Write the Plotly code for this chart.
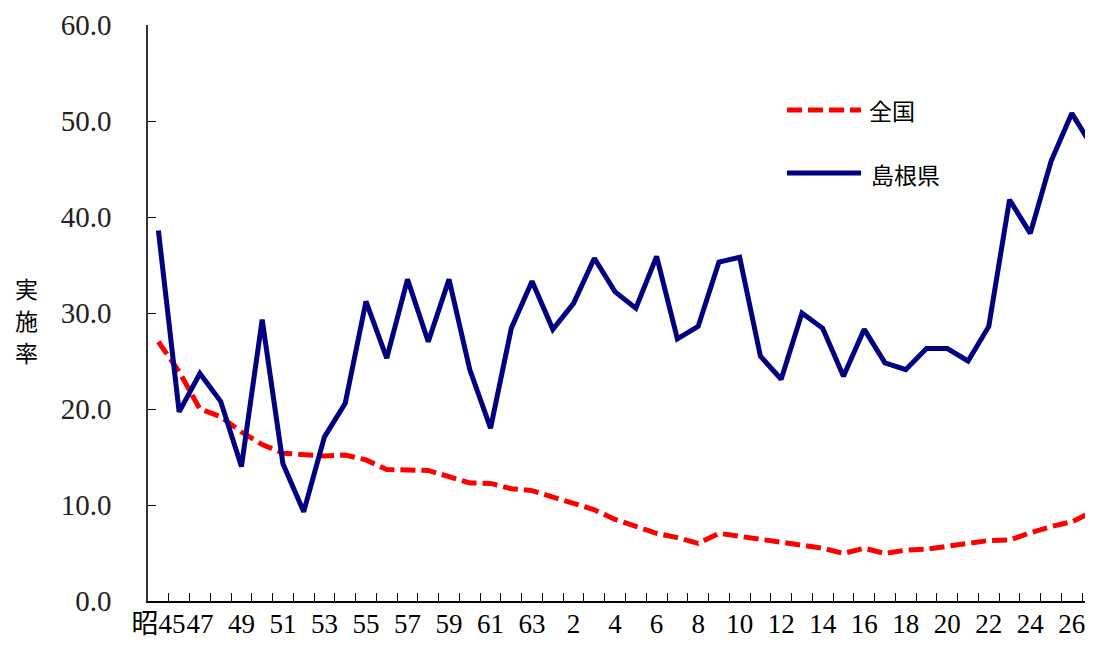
import plotly.graph_objects as go

# Years: 昭和45 (1970) .. 平成27 (2015)
years = ["昭45", "46", "47", "48", "49", "50", "51", "52", "53", "54", "55", "56", "57", "58",
         "59", "60", "61", "62", "63", "元", "2", "3", "4", "5", "6", "7", "8", "9", "10", "11",
         "12", "13", "14", "15", "16", "17", "18", "19", "20", "21", "22", "23", "24", "25",
         "26", "27"]

zenkoku = [27.0, 23.9, 20.0, 19.2, 17.6, 16.3, 15.4, 15.3, 15.1, 15.2, 14.7, 13.7, 13.65, 13.6,
           12.95, 12.3, 12.25, 11.7, 11.5, 10.8, 10.1, 9.5, 8.5, 7.75, 7.05, 6.6, 6.0, 7.05, 6.75,
           6.4, 6.2, 5.8, 5.5, 4.95, 5.5, 4.95, 5.3, 5.4, 5.65, 6.0, 6.3, 6.35, 7.1, 7.75, 8.25, 9.3]

shimane = [38.6, 19.7, 23.7, 20.8, 14.0, 29.3, 14.3, 9.3, 17.1, 20.6, 31.2, 25.3, 33.5, 27.0,
           33.5, 24.1, 18.0, 28.4, 33.3, 28.3, 31.0, 35.7, 32.2, 30.5, 35.9, 27.3, 28.6, 35.3,
           35.8, 25.5, 23.1, 30.0, 28.4, 23.4, 28.3, 24.8, 24.1, 26.3, 26.3, 25.0, 28.6, 41.8,
           38.3, 45.8, 50.8, 47.3]

tick_idx = list(range(0, 45, 2))
tick_text = [years[i] for i in tick_idx]

x = list(range(len(years)))
x_range = [-0.5, 45.02]

SERIF = "Liberation Serif, Noto Sans CJK JP, serif"
CJK = "Noto Sans CJK JP, sans-serif"

fig = go.Figure()
fig.add_trace(go.Scatter(x=x, y=zenkoku, mode="lines", name="全国",
                         line=dict(color="#FF0000", width=5, dash="15px,6px"),
                         showlegend=False))
fig.add_trace(go.Scatter(x=x, y=shimane, mode="lines", name="島根県",
                         line=dict(color="#000080", width=5),
                         showlegend=False))
# helper (invisible) trace so that the label axis is drawn
fig.add_trace(go.Scatter(x=[x[0]], y=[shimane[0]], xaxis="x2", mode="none",
                         showlegend=False, hoverinfo="skip"))

# page body has an 8px default margin: the figure is offset by (8, 8)
fig.update_layout(
    width=1085, height=640,
    margin=dict(l=140, r=0, t=17, b=47),
    paper_bgcolor="white", plot_bgcolor="white",
    showlegend=False,
    xaxis=dict(
        range=x_range, tickmode="linear", tick0=-0.5, dtick=1,
        ticks="inside", ticklen=8, tickcolor="black", tickwidth=1,
        showticklabels=False, automargin=False,
        showgrid=False, zeroline=False,
        showline=True, linecolor="black", linewidth=1.5,
    ),
    xaxis2=dict(
        overlaying="x", anchor="y", side="bottom",
        range=x_range, tickmode="array", tickvals=tick_idx, ticktext=tick_text,
        tickangle=0, automargin=False, ticks="",
        showgrid=False, zeroline=False, showline=False,
        tickfont=dict(family=SERIF, size=27, color="black"),
        ticklabelstandoff=4,
    ),
)

fig.update_yaxes(
    range=[0, 60], dtick=10, tickformat=".1f", automargin=False,
    ticks="inside", ticklen=8, tickcolor="black",
    showgrid=False, zeroline=False,
    showline=True, linecolor="#333333", linewidth=1.5,
    tickfont=dict(family=SERIF, size=29, color="#222222"),
    ticklabelstandoff=29,
)


def px_x(p):
    return (p - 148) / 945


def px_y(p):
    return (601 - p) / 576


# y-axis title (vertical stacked characters)
for ch, py in zip("実施率", [288, 320, 352]):
    fig.add_annotation(text=ch, xref="paper", yref="paper",
                       x=px_x(26), y=px_y(py),
                       xanchor="center", yanchor="middle", showarrow=False,
                       font=dict(family=CJK, size=23, color="black"))

# Legend (drawn manually)
fig.add_shape(type="line", xref="paper", yref="paper",
              x0=px_x(787), x1=px_x(861), y0=px_y(110), y1=px_y(110),
              line=dict(color="#FF0000", width=5, dash="15px,6px"))
fig.add_shape(type="line", xref="paper", yref="paper",
              x0=px_x(787), x1=px_x(861), y0=px_y(173), y1=px_y(173),
              line=dict(color="#000080", width=5))
fig.add_annotation(text="全国", xref="paper", yref="paper",
                   x=px_x(867), y=px_y(110), xanchor="left", yanchor="middle",
                   showarrow=False, font=dict(family=CJK, size=23, color="black"))
fig.add_annotation(text="島根県", xref="paper", yref="paper",
                   x=px_x(869), y=px_y(174), xanchor="left", yanchor="middle",
                   showarrow=False, font=dict(family=CJK, size=23, color="black"))

fig.write_html("out.html")
